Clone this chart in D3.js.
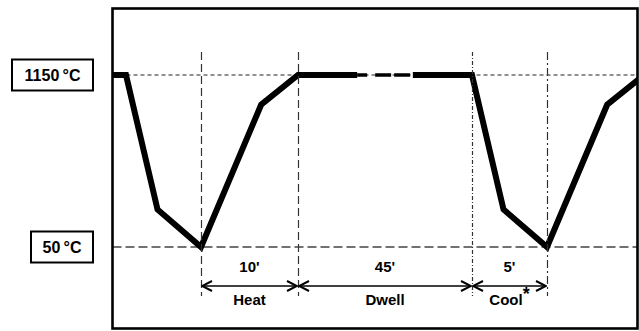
<!DOCTYPE html>
<html>
<head>
<meta charset="utf-8">
<script src="https://cdn.jsdelivr.net/npm/d3@7"></script>
<style>
  html, body { margin: 0; padding: 0; background: #fff; }
  svg { display: block; font-family: "Liberation Sans", Arial, Helvetica, sans-serif; }
</style>
</head>
<body>
<svg id="chart" width="639" height="331"></svg>
<script>
// Thermal cycle: temperature (°C) against time (minutes), one cycle starting at t = 0
const levelTemps = [1150, 50];
const levelLabels = ["1150\u2009°C", "50\u2009°C"];

const phaseNames = ["Heat", "Dwell", "Cool"];
const phaseLabels = ["10'", "45'", "5'"];
const phaseStart = [0, 10, 55];
const phaseEnd = [10, 55, 60];

const profileTime = [-7, -5, -2.9, 0, 6.2, 10, 55, 57.1, 60, 66.2, 70];
const profileTemp = [1150, 1150, 290, 50, 960, 1150, 1150, 290, 50, 960, 1150];

// part of the dwell that is drawn broken (time axis not to scale there)
const dwellBreak = [25.3, 39.7];

const svg = d3.select("#chart");

const frame = { x: 112.5, y: 8.5, w: 525, h: 320 };

// time axis is drawn piecewise: each phase gets its own width
const x = d3.scaleLinear()
  .domain([-5, 0, 10, 55, 60, 70])
  .range([126, 201, 298, 472, 547, 644]);
const y = d3.scaleLinear().domain([50, 1150]).range([247, 75]);

svg.append("defs").append("clipPath").attr("id", "plotClip")
  .append("rect")
  .attr("x", frame.x).attr("y", frame.y)
  .attr("width", frame.w).attr("height", frame.h);

// arrow marker (open chevron)
const defs = svg.select("defs");
["start", "end"].forEach(kind => {
  defs.append("marker")
    .attr("id", "arrow-" + kind)
    .attr("viewBox", "0 0 12 12")
    .attr("refX", kind === "end" ? 11 : 1)
    .attr("refY", 6)
    .attr("markerWidth", 12).attr("markerHeight", 12)
    .attr("markerUnits", "userSpaceOnUse")
    .attr("orient", "auto")
    .append("path")
    .attr("d", kind === "end" ? "M1,1 L11,6 L1,11" : "M11,1 L1,6 L11,11")
    .attr("fill", "none").attr("stroke", "#000").attr("stroke-width", 2);
});

const plot = svg.append("g").attr("clip-path", "url(#plotClip)");

// level reference lines
const levelStyle = [
  { dash: "4,3", width: 1, color: "#222" },
  { dash: "9,4", width: 1.3, color: "#444" }
];
levelTemps.forEach((t, i) => {
  plot.append("line")
    .attr("x1", frame.x).attr("x2", frame.x + frame.w)
    .attr("y1", y(t)).attr("y2", y(t))
    .attr("stroke", levelStyle[i].color)
    .attr("stroke-width", levelStyle[i].width)
    .attr("stroke-dasharray", levelStyle[i].dash);
});

// phase boundaries
const boundaries = [0, 10, 55, 60];
const boundaryDash = ["8,4", "8,4", "4,2,1,2", "8,3,2,3"];
boundaries.forEach((t, i) => {
  svg.append("line")
    .attr("x1", Math.round(x(t)) + 0.5).attr("x2", Math.round(x(t)) + 0.5)
    .attr("y1", 52).attr("y2", 296)
    .attr("stroke", "#333")
    .attr("stroke-width", 1.2)
    .attr("stroke-dasharray", boundaryDash[i]);
});

// temperature profile
const pts = profileTime.map((t, i) => [t, profileTemp[i]]);
const line = d3.line().x(d => x(d[0])).y(d => y(d[1]));
const before = pts.filter(d => d[0] < dwellBreak[0]).concat([[dwellBreak[0], 1150]]);
const after = [[dwellBreak[1], 1150]].concat(pts.filter(d => d[0] > dwellBreak[1]));

[before, after].forEach(seg => {
  plot.append("path")
    .attr("d", line(seg))
    .attr("fill", "none")
    .attr("stroke", "#000")
    .attr("stroke-width", 6)
    .attr("stroke-linejoin", "miter");
});
plot.append("line")
  .attr("x1", x(dwellBreak[0])).attr("x2", x(dwellBreak[1]))
  .attr("y1", y(1150)).attr("y2", y(1150))
  .attr("stroke", "#000")
  .attr("stroke-width", 3.5)
  .attr("stroke-dasharray", "10,8,16,3,16,3");

// frame
svg.append("rect")
  .attr("x", frame.x).attr("y", frame.y)
  .attr("width", frame.w).attr("height", frame.h)
  .attr("fill", "none").attr("stroke", "#000").attr("stroke-width", 2.6);

// level label boxes
const boxLeft = [12, 31];
levelTemps.forEach((t, i) => {
  const g = svg.append("g");
  const bx = boxLeft[i], bw = 93 - boxLeft[i], bh = 31;
  g.append("rect")
    .attr("x", bx).attr("y", y(t) - bh / 2)
    .attr("width", bw).attr("height", bh)
    .attr("fill", "#fff").attr("stroke", "#000").attr("stroke-width", 2);
  g.append("text")
    .attr("x", bx + bw / 2).attr("y", y(t) + 6)
    .attr("text-anchor", "middle")
    .attr("font-size", 16).attr("font-weight", "bold")
    .text(levelLabels[i]);
});

// phase duration arrows and labels
const arrowY = 286;
phaseNames.forEach((name, i) => {
  const x0 = x(phaseStart[i]), x1 = x(phaseEnd[i]);
  svg.append("line")
    .attr("x1", x0 + 1).attr("x2", x1 - 1)
    .attr("y1", arrowY).attr("y2", arrowY)
    .attr("stroke", "#000").attr("stroke-width", 1.5)
    .attr("marker-start", "url(#arrow-start)")
    .attr("marker-end", "url(#arrow-end)");
  const cx = (x0 + x1) / 2;
  svg.append("text")
    .attr("x", cx).attr("y", 272)
    .attr("text-anchor", "middle")
    .attr("font-size", 15).attr("font-weight", "bold")
    .text(phaseLabels[i]);
  const lbl = svg.append("text")
    .attr("x", cx).attr("y", 305)
    .attr("text-anchor", "middle")
    .attr("font-size", 15).attr("font-weight", "bold")
    .text(name);
  if (name === "Cool") {
    lbl.append("tspan").attr("dy", -5).attr("font-size", 18).text("*");
  }
});
</script>
</body>
</html>
